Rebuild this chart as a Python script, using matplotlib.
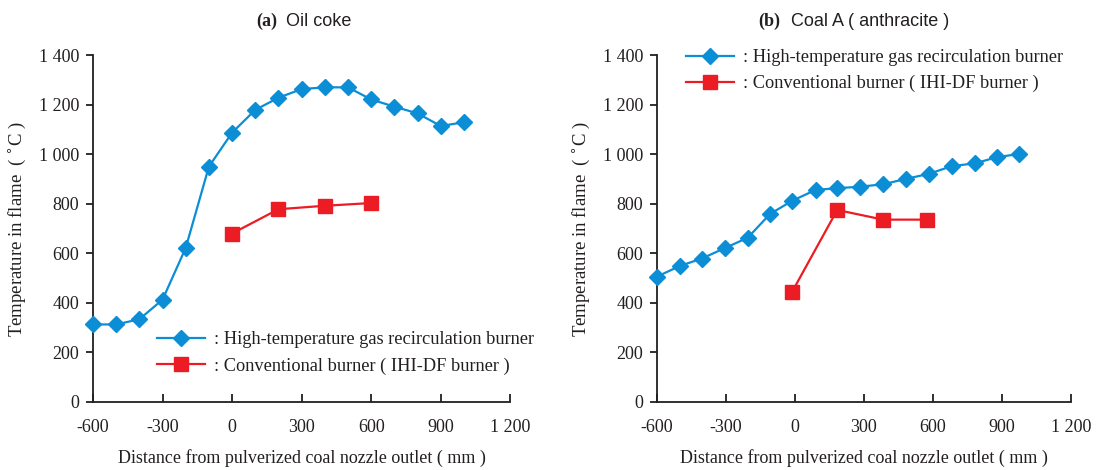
import matplotlib
matplotlib.use("Agg")
import matplotlib.pyplot as plt
from matplotlib.ticker import FuncFormatter
from matplotlib.lines import Line2D

# (a) Oil coke
a_hot_x = [-600, -500, -400, -300, -200, -100, 0, 100, 200, 300, 400, 500, 600, 700, 800, 900, 1000]
a_hot_y = [313, 313, 334, 413, 622, 950, 1087, 1179, 1228, 1263, 1270, 1270, 1221, 1192, 1165, 1114, 1129]
a_conv_x = [0, 200, 400, 600]
a_conv_y = [680, 778, 792, 803]

# (b) Coal A (anthracite)
b_hot_x = [-600, -500, -405, -305, -205, -108, -12, 90, 185, 285, 385, 485, 583, 682, 782, 878, 975]
b_hot_y = [506, 549, 579, 621, 663, 759, 812, 856, 863, 869, 879, 901, 921, 952, 963, 988, 1001]
b_conv_x = [-12, 184, 384, 575]
b_conv_y = [445, 775, 736, 736]

xticks = [-600, -300, 0, 300, 600, 900, 1200]
yticks = [0, 200, 400, 600, 800, 1000, 1200, 1400]

BLUE = '#0b8ed6'
RED = '#ec1c24'
SERIF = 'Liberation Serif'
SANS = 'Liberation Sans'

lbl_hot = ': High-temperature gas recirculation burner'
lbl_conv = ': Conventional burner ( IHI-DF burner )'


def fmt(v, pos):
    v = int(round(v))
    s = '{:,}'.format(abs(v)).replace(',', ' ')
    return ('-' if v < 0 else '') + s


fig = plt.figure(figsize=(10.98, 4.70), dpi=100)
ax1 = fig.add_axes([0.0847, 0.1447, 0.380, 0.738])
ax2 = fig.add_axes([0.5983, 0.1447, 0.377, 0.738])


def style(ax):
    ax.set_xlim(-600, 1200)
    ax.set_ylim(0, 1400)
    ax.set_xticks(xticks)
    ax.set_yticks(yticks)
    ax.xaxis.set_major_formatter(FuncFormatter(fmt))
    ax.yaxis.set_major_formatter(FuncFormatter(fmt))
    for s in ['top', 'right']:
        ax.spines[s].set_visible(False)
    for s in ['left', 'bottom']:
        ax.spines[s].set_linewidth(1.3)
        ax.spines[s].set_color('#231f20')
    ax.tick_params(axis='x', direction='in', length=6, width=1.3, pad=12,
                   labelsize=13, colors='#231f20')
    ax.tick_params(axis='y', direction='out', length=5, width=1.3, pad=5,
                   labelsize=13, colors='#231f20')
    for t in ax.get_xticklabels() + ax.get_yticklabels():
        t.set_fontfamily(SERIF)
    ax.set_xlabel('Distance from pulverized coal nozzle outlet ( mm )',
                  fontfamily=SERIF, fontsize=13, color='#231f20', labelpad=10)
    ax.set_ylabel('Temperature in flame  ( $^{\\circ}$C )', fontfamily=SERIF,
                  fontsize=13.5, color='#231f20', labelpad=8)
    ax.set_facecolor('none')


for ax, hx, hy, cx, cy in [(ax1, a_hot_x, a_hot_y, a_conv_x, a_conv_y),
                           (ax2, b_hot_x, b_hot_y, b_conv_x, b_conv_y)]:
    ax.plot(hx, hy, color=BLUE, lw=1.6, marker='D', ms=8, clip_on=False, zorder=3)
    ax.plot(cx, cy, color=RED, lw=1.6, marker='s', ms=10, clip_on=False, zorder=3)
    style(ax)

handles = [Line2D([], [], color=BLUE, lw=1.6, marker='D', ms=8),
           Line2D([], [], color=RED, lw=1.6, marker='s', ms=10)]

leg_kw = dict(frameon=False, handlelength=2.6, handletextpad=0.5,
              borderpad=0, borderaxespad=0, labelspacing=0.5,
              prop={'family': SERIF, 'size': 13.2}, labelcolor='#231f20')
ax1.legend(handles, [lbl_hot, lbl_conv], loc='center left',
           bbox_to_anchor=(0.153, 0.141), **leg_kw)
ax2.legend(handles, [lbl_hot, lbl_conv], loc='center left',
           bbox_to_anchor=(0.070, 0.955), **leg_kw)

# panel titles: bold serif tag + sans text
fig.text(0.233, 0.955, '(a)', fontfamily=SERIF, fontweight='bold', fontsize=13,
         color='#231f20', ha='left', va='center')
fig.text(0.2605, 0.955, 'Oil coke', fontfamily=SANS, fontsize=13,
         color='#231f20', ha='left', va='center')
fig.text(0.691, 0.955, '(b)', fontfamily=SERIF, fontweight='bold', fontsize=13,
         color='#231f20', ha='left', va='center')
fig.text(0.720, 0.955, 'Coal A ( anthracite )', fontfamily=SANS, fontsize=13,
         color='#231f20', ha='left', va='center')

fig.savefig('out.png', dpi=100)
